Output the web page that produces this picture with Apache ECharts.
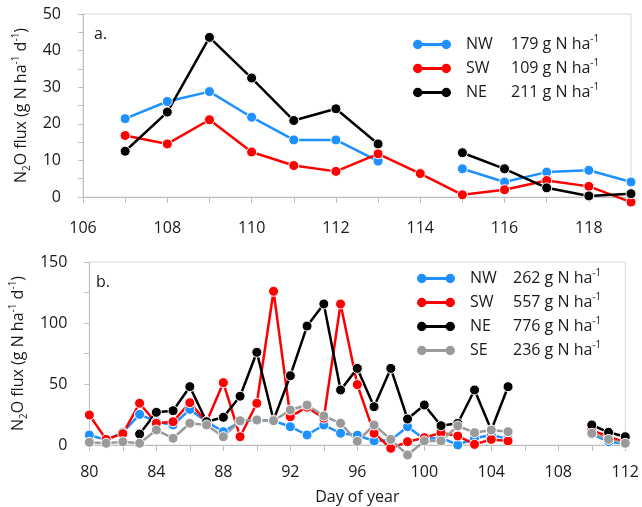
<!DOCTYPE html>
<html><head><meta charset="utf-8">
<script src="https://cdn.jsdelivr.net/npm/echarts@6/dist/echarts.min.js"></script>
<style>html,body{margin:0;padding:0;background:#fff}#c{width:642px;height:507px}</style>
</head><body><div id="c"></div>
<script>
// Panel a
const daysA = [107,108,109,110,111,112,113,114,115,116,117,118,119];
const nwA = [21.4,26.1,28.8,21.8,15.6,15.6,9.8,null,7.7,4.1,6.8,7.3,4.1];
const swA = [16.8,14.5,21.1,12.3,8.6,7.0,11.8,6.4,0.6,2.0,4.5,2.9,-1.4];
const neA = [12.5,23.2,43.6,32.5,20.9,24.1,14.5,null,12.1,7.7,2.5,0.3,0.9];
// Panel b
const daysB = [80,81,82,83,84,85,86,87,88,89,90,91,92,93,94,95,96,97,98,99,100,101,102,103,104,105,106,107,108,109,110,111,112];
const nwB = [8.2,4.1,10.4,25.1,19.1,16.4,29.2,19.1,10.9,19,20.5,19.9,15.0,8.2,16.4,9.6,8,3.3,4,15.0,5,6,0,5.5,8.2,5,null,null,null,null,9,2.7,1];
const swB = [24.6,4.6,9.3,34.2,17.8,19.1,34.7,19,51.1,6.8,34.2,126,23.2,31,22,115.6,49.5,9.6,-2.7,2.7,6.0,10.1,7.4,0.5,4.6,3.3,null,null,null,null,12,7,2];
const neB = [null,null,null,9.0,26.8,28.1,47.8,19.1,22.7,40,76,20.5,56.8,97.5,115.6,45.1,62.8,31.4,62.8,21.3,32.8,15.8,17.8,45.1,12.3,47.8,null,null,null,null,16.4,10.4,6.8];
const seB = [2.2,1.4,2.7,1.4,12.3,5.5,17.8,16.4,6.8,19.9,20.5,19.9,28.7,32.8,23.8,17.8,3,16.4,4.6,-8.2,3.3,3.3,15.6,10.1,12.3,10.9,null,null,null,null,9.6,4.6,1.4];
// Legend totals
const totalsA = {NW:'179', SW:'109', NE:'211'};
const totalsB = {NW:'262', SW:'557', NE:'776', SE:'236'};

const colors = {NW:'#1E90FF', SW:'#FF0000', NE:'#000000', SE:'#9A9A9A'};
const FONT = 'Open Sans';
const FS = 16;
const TXT = '#1a1a1a';
const AX = '#BFBFBF';

const icon = 'path://M0 5A5 5 0 1 1 10 5A5 5 0 1 1 0 5Z M8 3.5H32V6.5H8Z M30 5A5 5 0 1 1 40 5A5 5 0 1 1 30 5Z';

function pairs(days, vals){ return days.map((d,i)=>[d, vals[i]]); }
function mkSeries(name, key, days, vals, idx){
  return {
    name: name, type:'line', xAxisIndex: idx, yAxisIndex: idx,
    data: pairs(days, vals), symbol:'circle', symbolSize:10, clip:false,
    connectNulls:false, animation:false,
    lineStyle:{color:colors[key], width:2.5},
    itemStyle:{color:colors[key], borderColor:'#fff', borderWidth:1},
    emphasis:{disabled:true}
  };
}
const supRich = {
  t:{fontSize:FS, fontFamily:FONT, color:TXT, lineHeight:21},
  sp:{fontSize:10, fontFamily:FONT, color:TXT, lineHeight:13, verticalAlign:'top'},
  sb:{fontSize:10, fontFamily:FONT, color:TXT, lineHeight:12, verticalAlign:'bottom'}
};
const yName = '{t|N}{sb|2}{t|O flux (g N ha}{sp|-1}{t| d}{sp|-1}{t|)}';

function axisCommon(){
  return {
    axisLine:{show:true, lineStyle:{color:AX, width:1}},
    axisTick:{show:true, length:5, lineStyle:{color:AX}},
    splitLine:{show:false}
  };
}
function legendFor(keys, suffix, totals, left, top, nameW){
  return {
    data: keys.map(k=>k+suffix), orient:'vertical', left:left, top:top, padding:0,
    itemWidth:38, itemHeight:10, itemGap:5.5, icon:icon, selectedMode:false,
    itemStyle:{borderWidth:0},
    formatter: function(n){ const k = n.replace(suffix,''); return '{n|'+k+'}{v|'+totals[k]+' g N ha}{s|-1}'; },
    textStyle:{ rich:{
      n:{fontSize:FS, fontFamily:FONT, color:TXT, width:nameW, padding:[0,0,0,10], lineHeight:21},
      v:{fontSize:FS, fontFamily:FONT, color:TXT, lineHeight:21},
      s:{fontSize:10, fontFamily:FONT, color:TXT, lineHeight:14, verticalAlign:'top'}
    }}
  };
}

const chart = echarts.init(document.getElementById('c'));
chart.setOption({
  animation:false,
  textStyle:{fontFamily:FONT},
  grid:[
    {left:83, right:11, top:14, height:183, show:true, borderColor:'#D9D9D9', borderWidth:1},
    {left:84, right:8, top:262, height:183, show:true, borderColor:'#D9D9D9', borderWidth:1}
  ],
  xAxis:[
    Object.assign(axisCommon(), {type:'value', gridIndex:0, min:106, max:119, interval:1,
      axisTick:{show:true, length:6, lineStyle:{color:AX}},
      axisLabel:{formatter:v=> v%2===0 ? String(v) : '', margin:23, fontSize:FS, fontFamily:FONT, color:TXT}}),
    Object.assign(axisCommon(), {type:'value', gridIndex:1, min:80, max:112, interval:2,
      axisTick:{show:true, length:6, lineStyle:{color:AX}},
      axisLabel:{formatter:v=> v%4===0 ? String(v) : '', margin:19, fontSize:FS, fontFamily:FONT, color:TXT},
      name:'Day of year', nameLocation:'middle', nameGap:44,
      nameTextStyle:{fontSize:FS, fontFamily:FONT, color:TXT}})
  ],
  yAxis:[
    Object.assign(axisCommon(), {type:'value', gridIndex:0, min:0, max:50, interval:5,
      axisLabel:{formatter:v=> v%10===0 ? String(v) : '', margin:22, fontSize:FS, fontFamily:FONT, color:TXT},
      name:yName, nameLocation:'middle', nameGap:45, nameRotate:90,
      nameTextStyle:{rich:supRich}}),
    Object.assign(axisCommon(), {type:'value', gridIndex:1, min:0, max:150, interval:25,
      axisLabel:{formatter:v=> v%50===0 ? String(v) : '', margin:22, fontSize:FS, fontFamily:FONT, color:TXT},
      name:yName, nameLocation:'middle', nameGap:46, nameRotate:90,
      nameTextStyle:{rich:supRich}})
  ],
  legend:[
    legendFor(['NW','SW','NE'], '_a', totalsA, 413, 34, 45),
    legendFor(['NW','SW','NE','SE'], '_b', totalsB, 417, 268, 43)
  ],
  graphic:[
    {type:'text', left:94, top:26, style:{text:'a.', fontSize:FS, fontFamily:FONT, fill:TXT}},
    {type:'text', left:96, top:274, style:{text:'b.', fontSize:FS, fontFamily:FONT, fill:TXT}}
  ],
  series:[
    mkSeries('NW_a','NW',daysA,nwA,0),
    mkSeries('SW_a','SW',daysA,swA,0),
    mkSeries('NE_a','NE',daysA,neA,0),
    mkSeries('NW_b','NW',daysB,nwB,1),
    mkSeries('SW_b','SW',daysB,swB,1),
    mkSeries('NE_b','NE',daysB,neB,1),
    mkSeries('SE_b','SE',daysB,seB,1)
  ]
});
</script></body></html>
